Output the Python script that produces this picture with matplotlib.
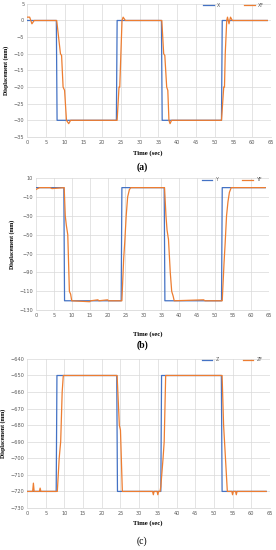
"""Displacement vs time for X, Y, Z axes with filtered response (XF, YF, ZF)."""
import numpy as np
from matplotlib import pyplot as plt

# ---------------------------------------------------------------------------
# Data

# (a) X axis
x_t = [0, 7.8, 8.0, 23.8, 24.0, 35.8, 36.0, 51.8, 52.0, 64]
x_v = [0, 0, -30, -30, 0, 0, -30, -30, 0, 0]
xf_t = [0, 0.7, 1.3, 1.9, 7.9, 8.9, 9.2, 9.6, 10.0, 10.5, 11.1, 11.6, 24.0, 24.5, 24.7, 25.0, 25.3,
        25.6, 25.9, 26.2, 35.9, 36.4, 36.7, 37.2, 37.5, 37.8, 38.1, 38.5, 51.8, 52.4, 52.6, 52.8, 53.2,
        53.4, 53.8, 54.2, 54.7, 64]
xf_v = [1, 1, -1, 0, 0, -10, -10.5, -20, -21, -30, -31, -30, -30, -20, -20, -10, 0,
        1, 0.5, 0, 0, -10, -10.5, -20, -21, -30, -31, -30, -30, -20, -20, -10, 0,
        1, -1, 1, 0, 0]

# (b) Y axis
y_t = [0, 7.8, 8.0, 23.8, 24.0, 35.8, 36.0, 51.8, 52.0, 64]
y_v = [0, 0, -120, -120, 0, 0, -120, -120, 0, 0]
yf_t = [0, 1.0, 4.0, 4.5, 7.9, 8.2, 8.5, 8.9, 9.35, 9.7, 10.0, 15.0, 15.3, 17.3, 17.6, 20.0, 20.3,
        24.0, 24.5, 24.8, 25.2, 25.6, 26.1, 26.5, 35.9, 36.3, 36.6, 37.0, 37.5, 37.9, 38.3, 38.6,
        46.8, 47.2, 52.0, 52.5, 52.8, 53.2, 53.6, 54.0, 54.5, 64]
yf_v = [-2, 0, 0, -1, 0, -30, -40, -50, -110, -113, -120, -121, -120, -119, -120, -119, -120,
        -120, -75, -58, -30, -10, -2, 0, 0, -30, -45, -55, -90, -110, -115, -120,
        -119, -120, -120, -80, -60, -30, -15, -5, 0, 0]

# (c) Z axis
z_t = [0, 7.8, 8.0, 24.0, 24.2, 35.8, 36.0, 52.0, 52.2, 64]
z_v = [-720, -720, -650, -650, -720, -720, -650, -650, -720, -720]
zf_t = [0, 1.5, 1.7, 1.9, 3.3, 3.5, 3.7, 8.1, 8.6, 9.0, 9.4, 9.7, 24.1, 24.7, 25.0, 25.5,
        33.6, 33.8, 34.0, 34.8, 35.0, 35.2, 35.6, 35.8, 36.4, 36.7, 37.1,
        52.2, 52.6, 53.1, 53.6, 54.8, 55.0, 55.2, 55.8, 56.0, 56.2, 64]
zf_v = [-720, -720, -715, -720, -720, -718, -720, -720, -700, -690, -660, -650, -650, -680, -683, -720,
        -720, -722, -720, -720, -722, -720, -720, -717, -700, -690, -650,
        -650, -680, -700, -720, -720, -722, -720, -720, -722, -720, -720]

x_ticks = np.arange(0, 66, 5)

BLUE = '#4472C4'
ORANGE = '#ED7D31'
SERIF = 'Liberation Serif'


###################################################################################################
# Plotting


def style_axes(ax, ylim, ystep):
    ax.set_xlim(0, 65)
    ax.set_ylim(*ylim)
    ax.set_xticks(x_ticks)
    ax.set_yticks(np.arange(ylim[0], ylim[1] + 0.1, ystep))
    ax.grid(True, color='#d9d9d9', linewidth=0.5)
    ax.set_axisbelow(True)
    for side in ['top', 'right', 'left']:
        ax.spines[side].set_visible(False)
    ax.spines['bottom'].set_color('#d9d9d9')
    ax.spines['bottom'].set_linewidth(0.6)
    ax.tick_params(length=0, labelsize=3.6, labelcolor='#595959', pad=2)


def panel(rect, t1, v1, t2, v2, names, ylim, ystep, ylabel):
    ax = fig.add_axes(rect)
    ax.plot(t1, v1, color=BLUE, linewidth=0.9, label=names[0])
    ax.plot(t2, v2, color=ORANGE, linewidth=0.9, label=names[1])
    style_axes(ax, ylim, ystep)
    ax.legend(loc='upper right', ncol=2, frameon=False, fontsize=3.4, handlelength=2.2,
              columnspacing=5, bbox_to_anchor=(0.99, 1.04), labelcolor='#595959')
    ax.set_ylabel(ylabel, family=SERIF, fontsize=4.2, fontweight='bold', labelpad=3)
    return ax


fig = plt.figure(figsize=(2.76, 5.5), dpi=100)

ax_a = panel([0.098, 0.751, 0.884, 0.242], x_t, x_v, xf_t, xf_v, ['X', 'XF'], (-35, 5), 5,
             'Displacement (mm)')
ax_b = panel([0.130, 0.436, 0.844, 0.240], y_t, y_v, yf_t, yf_v, ['Y', 'YF'], (-130, 10), 20,
             'Displacement (mm)')
ax_c = panel([0.098, 0.0764, 0.880, 0.271], z_t, z_v, zf_t, zf_v, ['Z', 'ZF'], (-730, -640), 10,
             'Displacement (mm)')

# x labels and panel letters (figure coords from pixel positions)
fig.text(0.535, 1 - 153 / 550, 'Time (sec)', family=SERIF, fontsize=4.8, fontweight='bold',
         ha='center', va='center')
fig.text(0.515, 1 - 167 / 550, '(a)', family=SERIF, fontsize=7, fontweight='bold',
         ha='center', va='center')
fig.text(0.535, 1 - 334 / 550, 'Time (sec)', family=SERIF, fontsize=4.8, fontweight='bold',
         ha='center', va='center')
fig.text(0.515, 1 - 345 / 550, '(b)', family=SERIF, fontsize=7, fontweight='bold',
         ha='center', va='center')
fig.text(0.535, 1 - 523 / 550, 'Time (sec)', family=SERIF, fontsize=4.8, fontweight='bold',
         ha='center', va='center')
fig.text(0.515, 1 - 541 / 550, '(c)', family=SERIF, fontsize=7,
         ha='center', va='center')

fig.savefig('out.png', dpi=100, facecolor='white')
